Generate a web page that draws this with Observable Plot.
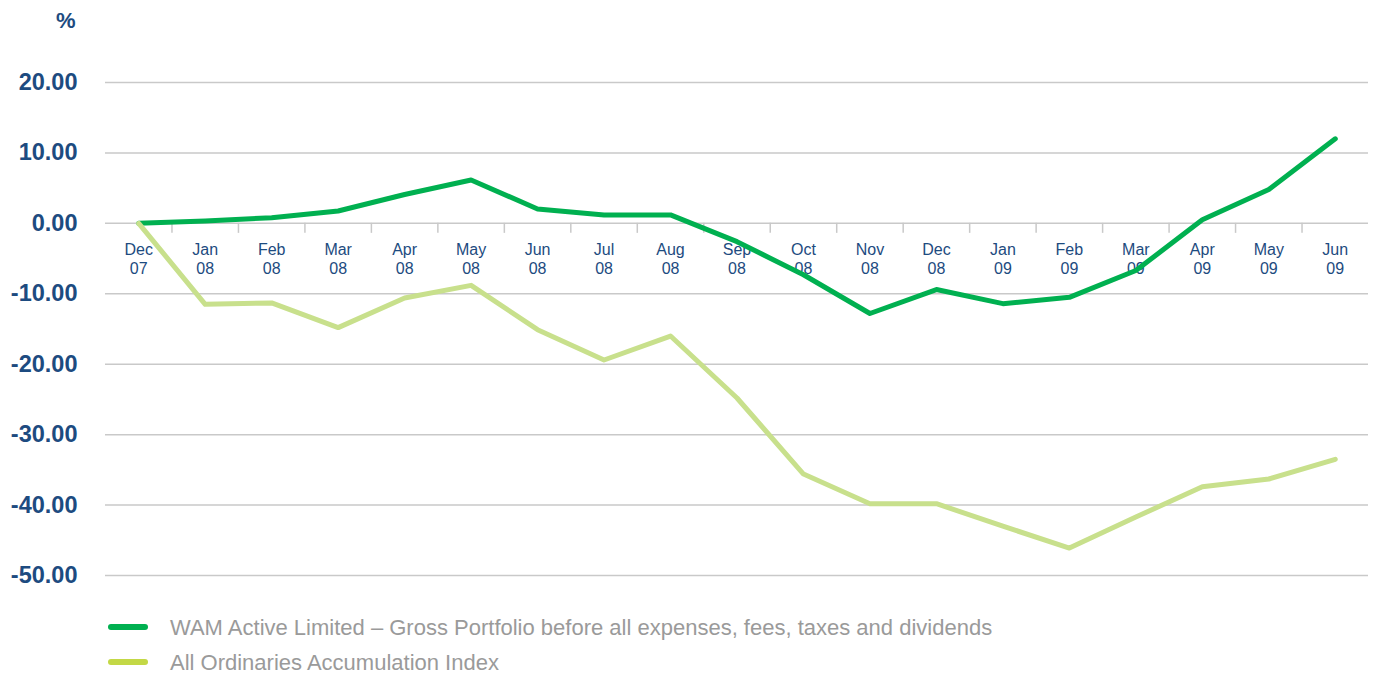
<!DOCTYPE html>
<html>
<head>
<meta charset="utf-8">
<script src="https://cdn.jsdelivr.net/npm/d3@7"></script>
<script src="https://cdn.jsdelivr.net/npm/@observablehq/plot@0.6"></script>
<style>
  html, body { margin: 0; padding: 0; background: #fff; }
  body { width: 1375px; height: 673px; overflow: hidden; font-family: "Liberation Sans", Arial, sans-serif; }
  #legend { padding-left: 108px; margin-top: 10px; }
  .row { height: 35px; line-height: 35px; font-size: 22px; color: #9a9a9a; white-space: nowrap; }
  .sw { display: inline-block; width: 40px; height: 6px; border-radius: 3px; vertical-align: middle; margin-right: 22px; position: relative; top: -2px; }
</style>
</head>
<body>
<div id="chart"></div>
<div id="legend"></div>
<script>
const categories = ["Dec\n07","Jan\n08","Feb\n08","Mar\n08","Apr\n08","May\n08","Jun\n08","Jul\n08","Aug\n08","Sep\n08","Oct\n08","Nov\n08","Dec\n08","Jan\n09","Feb\n09","Mar\n09","Apr\n09","May\n09","Jun\n09"];
const wamValues = [0, 0.35, 0.8, 1.75, 4.1, 6.15, 2.05, 1.2, 1.2, -2.6, -7.3, -12.8, -9.4, -11.4, -10.5, -6.7, 0.5, 4.8, 12.0];
const aoaiValues = [0, -11.5, -11.3, -14.8, -10.6, -8.8, -15.1, -19.4, -16.0, -24.8, -35.6, -39.8, -39.8, -43.0, -46.1, -41.7, -37.4, -36.3, -33.5];
const seriesNames = ["WAM Active Limited – Gross Portfolio before all expenses, fees, taxes and dividends", "All Ordinaries Accumulation Index"];
const seriesColors = ["#00b050", "#c8e08c"];
const legendColors = ["#00b050", "#c3d846"];
const yTicks = [20, 10, 0, -10, -20, -30, -40, -50];
const yUnit = "%";

const navy = "#1d4b80";
const idx = categories.map((d, i) => i);
const boundaries = idx.slice(1).map(i => i - 0.5);
const wam = wamValues.map((v, i) => ({i, v}));
const aoai = aoaiValues.map((v, i) => ({i, v}));

const chart = Plot.plot({
  width: 1375,
  height: 600,
  marginLeft: 105,
  marginRight: 7,
  marginTop: 82,
  marginBottom: 25,
  style: {fontFamily: "'Liberation Sans', Arial, sans-serif", background: "#fff"},
  x: {domain: [-0.5, categories.length - 0.5], axis: null},
  y: {domain: [-50, 20], axis: null},
  marks: [
    Plot.gridY(yTicks, {stroke: "#c9c9c9", strokeOpacity: 1, strokeWidth: 1.5}),
    Plot.ruleX(boundaries, {x: d => d, y1: 0, y2: 0, insetBottom: -10, stroke: "#c9c9c9", strokeWidth: 1.5}),
    Plot.axisY(yTicks, {tickSize: 0, tickPadding: 28, tickFormat: d => d.toFixed(2), fontSize: 23.5, fontWeight: "bold", fill: navy, label: null}),
    Plot.text([yUnit], {frameAnchor: "top-left", dx: -30, dy: -70, textAnchor: "end", fontSize: 22, fontWeight: "bold", fill: navy}),
    Plot.text(idx, {x: d => d, y: () => 0, text: d => categories[d], lineAnchor: "top", dy: 19, fontSize: 16, lineHeight: 1.15, fill: navy}),
    Plot.line(wam, {x: "i", y: "v", stroke: seriesColors[0], strokeWidth: 5, strokeLinejoin: "round", strokeLinecap: "round"}),
    Plot.line(aoai, {x: "i", y: "v", stroke: seriesColors[1], strokeWidth: 5, strokeLinejoin: "round", strokeLinecap: "round"})
  ]
});
document.getElementById("chart").appendChild(chart);

const legend = document.getElementById("legend");
seriesNames.forEach((name, k) => {
  const row = document.createElement("div");
  row.className = "row";
  const sw = document.createElement("span");
  sw.className = "sw";
  sw.style.background = legendColors[k];
  row.appendChild(sw);
  row.appendChild(document.createTextNode(name));
  legend.appendChild(row);
});
</script>
</body>
</html>
